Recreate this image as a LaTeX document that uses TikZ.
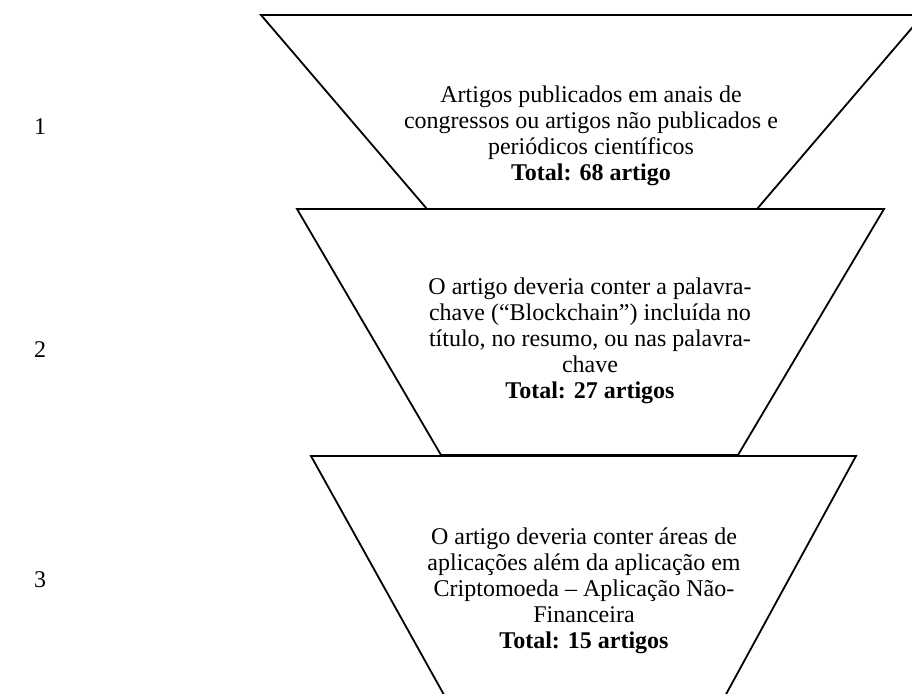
\documentclass[tikz,border=0pt]{standalone}
\usepackage{fontspec}
\setmainfont{Liberation Serif}
\begin{document}
\begin{tikzpicture}[x=1pt,y=-1pt,
  funnel/.style={draw=black, line width=1.8pt, line join=miter},
  lbl/.style={font=\fontsize{24}{26}\selectfont, align=center, inner sep=0pt},
  num/.style={font=\fontsize{24}{26}\selectfont, inner sep=0pt}]
\useasboundingbox (0,0) rectangle (912,693);
\clip (0,0) rectangle (912,693);
\fill[white] (0,0) rectangle (912,693);
% funnel stages
\draw[funnel] (261,15) -- (923,15) -- (757,209) -- (427,209) -- cycle;
\draw[funnel] (297,209) -- (884,209) -- (738,455) -- (441,455) -- cycle;
\draw[funnel] (311,456) -- (856,456) -- (712,720) -- (458,720) -- cycle;
% texts
\node[lbl] (t1) at (591,136) {Artigos publicados em anais de\\congressos ou artigos não publicados e\\periódicos científicos\\\textbf{Total: 68 artigo}};
\node[lbl] (t2) at (590,341) {O artigo deveria conter a palavra-\\chave (“Blockchain”) incluída no\\título, no resumo, ou nas palavra-\\chave\\\textbf{Total: 27 artigos}};
\node[lbl] (t3) at (584,591) {O artigo deveria conter áreas de\\aplicações além da aplicação em\\Criptomoeda – Aplicação Não-\\Financeira\\\textbf{Total: 15 artigos}};
% stage numbers
\node[num] (n1) at (40,127) {1};
\node[num] (n2) at (40,350) {2};
\node[num] (n3) at (40,580) {3};
\end{tikzpicture}
\end{document}
